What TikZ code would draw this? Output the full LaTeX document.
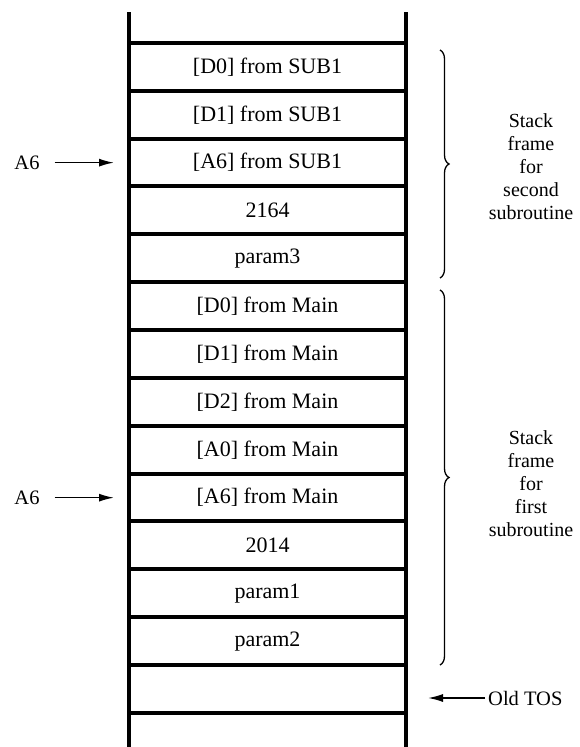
\documentclass[tikz,border=0pt]{standalone}
\usepackage{fontspec}
\setmainfont{Liberation Serif}
\usetikzlibrary{arrows.meta,decorations.pathreplacing}
\begin{document}
\begin{tikzpicture}[x=1pt,y=-1pt,
  cell/.style={minimum width=277pt, minimum height=47.86pt, inner sep=0pt, font=\fontsize{22}{24}\selectfont},
  wall/.style={line width=4.5pt},
  sep/.style={line width=4pt},
  brc/.style={decorate, decoration={brace, amplitude=9pt}, line width=1.3pt},
  lbl/.style={align=center, font=\fontsize{20}{23}\selectfont, inner sep=0pt},
  side/.style={font=\fontsize{20.5}{23}\selectfont, inner sep=0pt},
  ptr/.style={line width=1.5pt, -{Latex[length=15pt,width=8pt]}}]
\useasboundingbox (0,0) rectangle (579,747);
% rows
\node[cell] (r1)  at (267.5,66.93)  {[D0] from SUB1};
\node[cell] (r2)  at (267.5,114.79) {[D1] from SUB1};
\node[cell] (r3)  at (267.5,162.65) {[A6] from SUB1};
\node[cell] (r4)  at (267.5,210.51) {2164};
\node[cell] (r5)  at (267.5,258.37) {param3};
\node[cell] (r6)  at (267.5,306.23) {[D0] from Main};
\node[cell] (r7)  at (267.5,354.09) {[D1] from Main};
\node[cell] (r8)  at (267.5,401.95) {[D2] from Main};
\node[cell] (r9)  at (267.5,449.81) {[A0] from Main};
\node[cell] (r10) at (267.5,497.67) {[A6] from Main};
\node[cell] (r11) at (267.5,545.53) {2014};
\node[cell] (r12) at (267.5,593.39) {param1};
\node[cell] (r13) at (267.5,641.25) {param2};
\node[cell] (r14) at (267.5,689.11) {};
% separators
\foreach \i in {1,...,14} \draw[sep] (r\i.north west) -- (r\i.north east);
\draw[sep] (r14.south west) -- (r14.south east);
% walls
\coordinate (wl1) at (129,12);
\coordinate (wl2) at (129,747);
\coordinate (wr1) at (406,12);
\coordinate (wr2) at (406,747);
\draw[wall] (wl1) -- (wl2);
\draw[wall] (wr1) -- (wr2);
% A6 pointers
\node[side] (a6a) at (27,162.65) {A6};
\node[side] (a6b) at (27,497.67) {A6};
\coordinate (p1) at (114,162.65);
\coordinate (p2) at (114,497.67);
\draw[ptr, shorten <=15pt] (a6a.east) -- (p1);
\draw[ptr, shorten <=15pt] (a6b.east) -- (p2);
% braces
\coordinate (b1t) at (440,50);
\coordinate (b1b) at (440,278);
\coordinate (b2t) at (440,290);
\coordinate (b2b) at (440,665);
\draw[brc] (b1t) -- (b1b);
\draw[brc] (b2t) -- (b2b);
\node[lbl] (l1) at (531,167) {Stack\\frame\\for\\second\\subroutine};
\node[lbl] (l2) at (531,484) {Stack\\frame\\for\\first\\subroutine};
% Old TOS
\node[side, anchor=west] (tos) at (488,698) {Old TOS};
\coordinate (tp) at (428,698);
\draw[ptr, shorten <=3pt] (tos.west) -- (tp);
\end{tikzpicture}
\end{document}
